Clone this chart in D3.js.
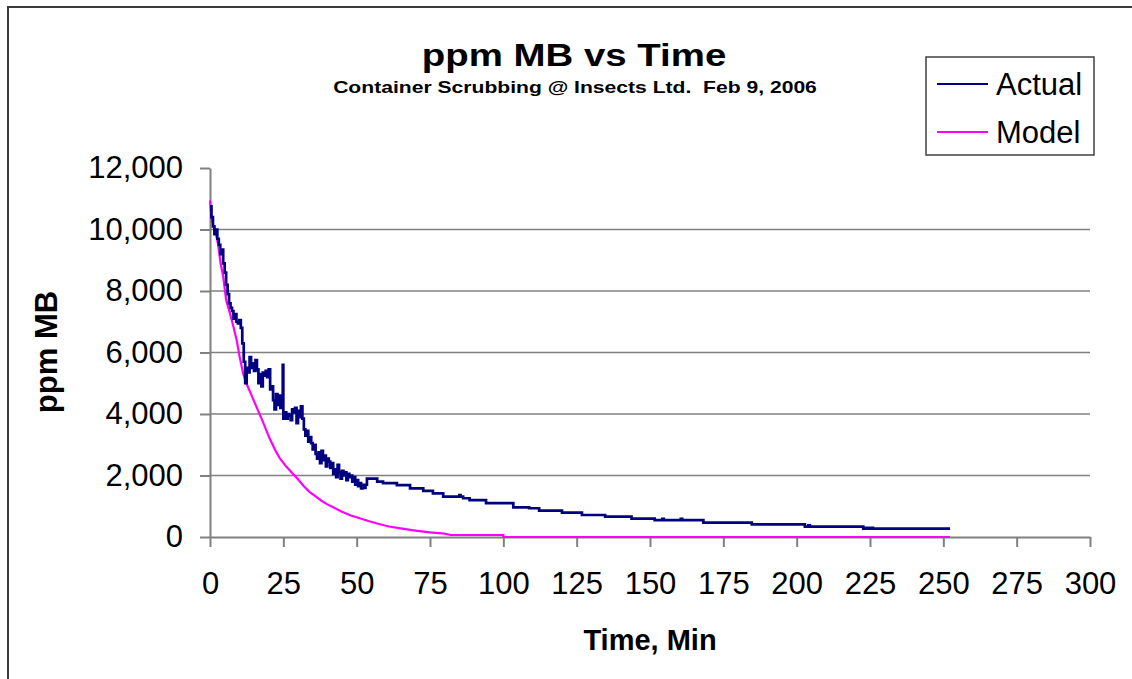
<html>
    <head>
        <title>ppm MB vs Time</title>
        <style>
            body { margin: 0; background: #fff; }
            text { font-family: "Liberation Sans", Arial, sans-serif; }
        </style>
    </head>

    <body>
        <script src="https://cdn.jsdelivr.net/npm/d3@7"></script>
        <script>
            var actualTime = [0, 0.5, 1, 1.5, 2, 2.5, 3, 3.5, 4, 4.5, 5, 5.5, 6, 6.5, 7, 7.5, 8, 8.5, 9, 9.5,
                10, 10.5, 11, 11.5, 12, 12.5, 13, 13.5, 14, 14.5, 15, 15.5, 16, 16.5, 17, 17.5, 18, 18.5, 19, 19.5,
                20, 20.5, 21, 21.5, 22, 22.5, 23, 23.5, 24, 24.5, 24.8, 25, 25.5, 26, 26.5, 27, 27.5, 28, 28.5, 29, 29.5,
                30, 30.5, 31, 31.5, 32, 32.5, 33, 33.5, 34, 34.5, 35, 35.5, 36, 36.5, 37, 37.5, 38, 38.5, 39, 39.5,
                40, 40.5, 41, 41.5, 42, 42.5, 43, 43.5, 44, 44.5, 45, 45.5, 46, 46.5, 47, 47.5, 48, 48.5, 49, 49.5,
                50, 50.5, 51, 51.5, 52, 52.5, 53, 53.5, 57, 59, 63.7, 68.2, 72.7, 76, 79.5, 85, 85.4, 86.3, 88.5,
                94.1, 103.4, 108.8, 112.2, 120, 126.8, 134.7, 143.7, 151.6, 154.2, 154.7, 160.5, 161, 168.2,
                184.7, 202.8, 204, 204.5, 222.7, 223.5, 224.5, 225.5, 226, 252.3];
            var actualPpm = [10750, 10400, 10100, 9850, 10000, 9700, 9500, 9200, 9350, 8900, 8600, 8200, 7900, 7600, 7450, 7350, 7100, 7250, 7000, 6950,
                7050, 6800, 6300, 5700, 5000, 5500, 5350, 5850, 5500, 5650, 5400, 5750, 5450, 5000, 5300, 4900, 5350, 5250, 5400, 5200,
                5450, 4800, 4900, 4450, 4150, 4650, 4300, 4600, 4200, 4450, 5600, 3850, 4050, 3850, 4000, 3950, 3800, 4150, 4050, 4200, 3700,
                4100, 3900, 4250, 3850, 3500, 3300, 3450, 3100, 3250, 3050, 2850, 3000, 2700, 2550, 2750, 2400, 2800, 2500, 2650, 2300,
                2550, 2450, 2250, 2400, 2050, 2200, 1950, 2350, 2100, 1900, 2150, 2000, 2100, 1850, 2050, 1950, 2000, 1800, 1950, 1700,
                1850, 1650, 1750, 1580, 1700, 1600, 1700, 1900, 1800, 1750, 1690, 1580, 1500, 1420, 1310, 1360, 1310, 1260, 1200,
                1100, 965, 935, 857, 792, 716, 662, 600, 550, 590, 550, 590, 550, 466,
                412, 336, 380, 336, 271, 300, 271, 300, 271, 271];

            var modelTime = [0, 0.6, 1.7, 2.8, 3.6, 4.5, 5.5, 6.8, 8, 9.1, 10.1, 11.3, 12.4, 14.1, 15.8, 18, 20.3, 22.5,
                24, 26, 28, 30, 32, 34, 36, 38, 40, 42, 45, 48, 50, 54, 57, 61, 65, 70, 75, 80, 82, 100, 100, 252.3];
            var modelPpm = [10950, 10300, 9980, 9500, 8900, 8470, 7710, 7270, 6840, 6400, 5860, 5320, 5000, 4620, 4240, 3750, 3210, 2775,
                2530, 2290, 2080, 1880, 1650, 1460, 1320, 1180, 1060, 970, 820, 700, 640, 520, 440, 340, 280, 210, 150, 110, 65, 65, 0, 0];

            var xTicks = [0, 25, 50, 75, 100, 125, 150, 175, 200, 225, 250, 275, 300];
            var yTicks = [0, 2000, 4000, 6000, 8000, 10000, 12000];
            var gridTicks = [2000, 4000, 6000, 8000, 10000];

            var width = 1132, height = 679;
            var plotLeft = 210, plotRight = 1090, plotTop = 168, plotBottom = 537;

            var body = d3.select('body');

            var svg = body
            .append('svg')
            .attr('width', width)
            .attr('height', height);

            svg.append('rect')
            .attr('x', 8)
            .attr('y', 7)
            .attr('width', 1400)
            .attr('height', 900)
            .attr('fill', 'none')
            .attr('stroke', '#3a3a3a')
            .attr('stroke-width', 2);

            var x = d3.scaleLinear().domain([0, 300]).range([plotLeft, plotRight]);
            var y = d3.scaleLinear().domain([0, 12000]).range([plotBottom, plotTop]);

            svg.append('g')
            .selectAll('line')
            .data(gridTicks)
            .enter()
            .append('line')
            .attr('x1', plotLeft)
            .attr('x2', plotRight)
            .attr('y1', function(d) { return y(d); })
            .attr('y2', function(d) { return y(d); })
            .attr('stroke', '#808080')
            .attr('stroke-width', 1.5);

            var xAxis = svg.append('g')
            .attr('transform', 'translate(0,' + plotBottom + ')')
            .call(d3.axisBottom(x).tickValues(xTicks).tickSize(10).tickPadding(25).tickSizeOuter(0));

            var yAxis = svg.append('g')
            .attr('transform', 'translate(' + plotLeft + ',0)')
            .call(d3.axisLeft(y).tickValues(yTicks).tickFormat(d3.format(',')).tickSize(10).tickPadding(17).tickSizeOuter(0));

            [xAxis, yAxis].forEach(function(a) {
                a.select('.domain').attr('stroke', '#808080').attr('stroke-width', 2);
                a.selectAll('.tick line').attr('stroke', '#808080').attr('stroke-width', 2);
                a.selectAll('.tick text')
                .attr('fill', '#000')
                .style('font-size', '31px')
                .style('font-family', '"Liberation Sans", Arial, sans-serif');
            });

            var actual = actualTime.map(function(t, i) { return [t, actualPpm[i]]; });
            var model = modelTime.map(function(t, i) { return [t, modelPpm[i]]; });

            var stepLine = d3.line()
            .x(function(d) { return x(d[0]); })
            .y(function(d) { return y(d[1]); })
            .curve(d3.curveStepAfter);

            var smoothLine = d3.line()
            .x(function(d) { return x(d[0]); })
            .y(function(d) { return y(d[1]); });

            svg.append('path')
            .attr('d', smoothLine(model))
            .attr('fill', 'none')
            .attr('stroke', '#ff00ff')
            .attr('stroke-width', 2.2);

            svg.append('path')
            .attr('d', stepLine(actual))
            .attr('fill', 'none')
            .attr('stroke', '#000080')
            .attr('stroke-width', 2.7);

            svg.append('text')
            .attr('transform', 'translate(574,66) scale(1.24,1)')
            .attr('text-anchor', 'middle')
            .style('font-size', '31px')
            .style('font-weight', 'bold')
            .text('ppm MB vs Time');

            svg.append('text')
            .attr('transform', 'translate(575,93) scale(1.32,1)')
            .attr('text-anchor', 'middle')
            .style('font-size', '16px')
            .style('font-weight', 'bold')
            .attr('xml:space', 'preserve')
            .text('Container Scrubbing @ Insects Ltd.  Feb 9, 2006');

            svg.append('text')
            .attr('x', 650)
            .attr('y', 650)
            .attr('text-anchor', 'middle')
            .style('font-size', '29px')
            .style('font-weight', 'bold')
            .text('Time, Min');

            svg.append('text')
            .attr('transform', 'translate(57,352) rotate(-90)')
            .attr('text-anchor', 'middle')
            .style('font-size', '31px')
            .style('font-weight', 'bold')
            .text('ppm MB');

            var legendNames = ['Actual', 'Model'];
            var legendColors = ['#000080', '#ff00ff'];

            var legend = svg.append('g');

            legend.append('rect')
            .attr('x', 926)
            .attr('y', 57)
            .attr('width', 168)
            .attr('height', 98)
            .attr('fill', '#fff')
            .attr('stroke', '#404040')
            .attr('stroke-width', 1.5);

            var item = legend.selectAll('g.item')
            .data(legendNames)
            .enter()
            .append('g')
            .attr('class', 'item')
            .attr('transform', function(d, i) { return 'translate(0,' + (84 + i * 48) + ')'; });

            item.append('line')
            .attr('x1', 937)
            .attr('x2', 988)
            .attr('stroke', function(d, i) { return legendColors[i]; })
            .attr('stroke-width', 2);

            item.append('text')
            .attr('x', 996)
            .attr('y', 11)
            .style('font-size', '31px')
            .text(function(d) { return d; });
        </script>
    </body>
</html>
